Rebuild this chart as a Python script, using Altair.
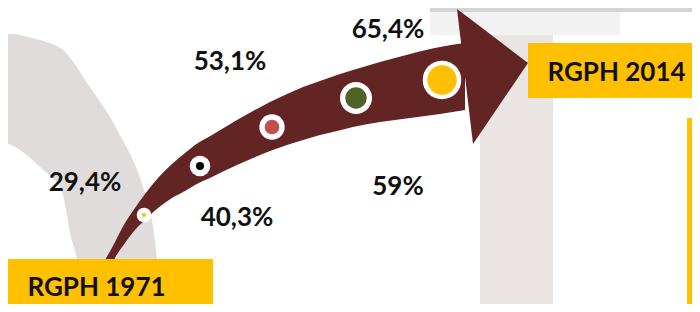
import altair as alt
import pandas as pd

# ---- values shown ----
rates = [29.4, 40.3, 53.1, 59, 65.4]
rate_text = [f"{v:g}".replace(".", ",") + "%" for v in rates]
census = ["RGPH 1971", "RGPH 2014"]
dot_colors = ["#FFC000", "#000000", "#C0504D", "#4F6228", "#FFC000"]

# ---- layout (pixel coordinates of the 700x312 picture) ----
label_x = [85, 237, 230, 398, 388]
label_y = [183, 218, 62, 187, 30]
dot_x = [144, 200, 272, 356, 442]
dot_y = [215, 166, 127, 98, 80]
dot_outer_r = [7.3, 10.3, 12.7, 16, 19.3]
dot_inner_r = [2.0, 4.0, 7.3, 10.7, 14.7]

# arrow shaft edges (vertical slices)
shaft_x = [105, 115, 118, 125, 135, 145, 158, 172, 185, 195, 212, 222, 237, 253,
           270, 287, 303, 320, 337, 353, 380, 410, 440, 465]
shaft_top = [260, 242, 236, 223, 208, 194, 178, 164, 153, 145, 135, 129, 120, 111,
             102, 94, 87, 81, 75, 70, 62, 54, 47, 43]
shaft_bot = [312, 258, 253, 243, 230, 220, 208, 198, 191, 185, 177, 172, 165, 158,
             151, 145, 140, 135, 131, 127, 122, 118, 114, 110]
# arrow head
head_x = [457, 473, 528]
head_top = [9, 21, 63]
head_bot = [9, 144, 63]

# faint background arc (horizontal slices)
arc_y = [34, 40, 45, 60, 77, 100, 117, 137, 150, 167, 187, 210, 233, 260, 312]
arc_x1 = [0, 0, 0, 0, 0, 0, 0, 0, 20, 40, 60, 66, 70, 77, 80]
arc_x2 = [15, 40, 55, 72, 83, 99, 110, 121, 128, 136, 143, 150, 154, 157, 160]

M = 8
W, H = 684, 296          # drawable area inside the page margin
xs = alt.Scale(domain=[M, M + W], nice=False, zero=False)
ys = alt.Scale(domain=[M, M + H], nice=False, zero=False, reverse=True)

def X(f):
    return alt.X(f, type="quantitative", scale=xs, axis=None)

def Y(f):
    return alt.Y(f, type="quantitative", scale=ys, axis=None)

# background rects
bg = pd.DataFrame({
    "x1": [480, 430, 430], "x2": [553, 700, 620],
    "y1": [0, 0, 12], "y2": [312, 12, 35],
    "c": ["#EAE5E3", "#D4D4D4", "#F3F2F2"],
})
bg_layer = alt.Chart(bg).mark_rect(opacity=1).encode(
    x=X("x1"), x2="x2", y=Y("y1"), y2="y2", color=alt.Color("c:N", scale=None))

arc = pd.DataFrame({"y": arc_y, "x1": arc_x1, "x2": arc_x2})
arc_layer = alt.Chart(arc).mark_area(orient="horizontal", color="#E1DCDC", opacity=1,
                                     interpolate="monotone").encode(
    y=Y("y"), x=X("x1"), x2="x2")

shaft = pd.DataFrame({"x": shaft_x, "t": shaft_top, "b": shaft_bot})
shaft_layer = alt.Chart(shaft).mark_area(color="#632523", opacity=1,
                                         interpolate="monotone").encode(
    x=X("x"), y=Y("t"), y2="b")

head = pd.DataFrame({"x": head_x, "t": head_top, "b": head_bot})
head_layer = alt.Chart(head).mark_area(color="#632523", opacity=1).encode(
    x=X("x"), y=Y("t"), y2="b")

dots = pd.DataFrame({
    "x": dot_x, "y": dot_y,
    "so": [4 * r * r for r in dot_outer_r],
    "si": [4 * r * r for r in dot_inner_r],
    "c": dot_colors,
})
outer_layer = alt.Chart(dots).mark_point(filled=True, shape="circle", opacity=1,
                                         color="#FFFFFF", strokeWidth=0).encode(
    x=X("x"), y=Y("y"), size=alt.Size("so:Q", scale=None))
inner_layer = alt.Chart(dots).mark_point(filled=True, shape="circle", opacity=1,
                                         strokeWidth=0).encode(
    x=X("x"), y=Y("y"), size=alt.Size("si:Q", scale=None),
    color=alt.Color("c:N", scale=None))

labels = pd.DataFrame({"x": label_x, "y": label_y, "t": rate_text})
label_layer = alt.Chart(labels).mark_text(
    font="Lato", fontWeight="bold", fontSize=26, color="#111111",
    align="center", baseline="middle").encode(x=X("x"), y=Y("y"), text="t:N")

boxes = pd.DataFrame({"x1": [8, 528, 687], "x2": [213, 700, 700],
                      "y1": [259, 43, 118], "y2": [312, 98, 312]})
box_layer = alt.Chart(boxes).mark_rect(color="#FFC000", opacity=1).encode(
    x=X("x1"), x2="x2", y=Y("y1"), y2="y2")

box_text = pd.DataFrame({"x": [96.5, 616.5], "y": [288, 73], "t": census})
box_text_layer = alt.Chart(box_text).mark_text(
    font="Lato", fontWeight="bold", fontSize=26, color="#111111",
    align="center", baseline="middle").encode(x=X("x"), y=Y("y"), text="t:N")

chart = alt.layer(
    bg_layer, arc_layer, shaft_layer, head_layer, outer_layer, inner_layer,
    label_layer, box_layer, box_text_layer
).properties(
    width=W, height=H, padding=0, autosize="none", background="#FFFFFF"
).configure_view(strokeWidth=0, clip=True)

chart.save("out.html", embed_options={"renderer": "svg", "actions": False})
